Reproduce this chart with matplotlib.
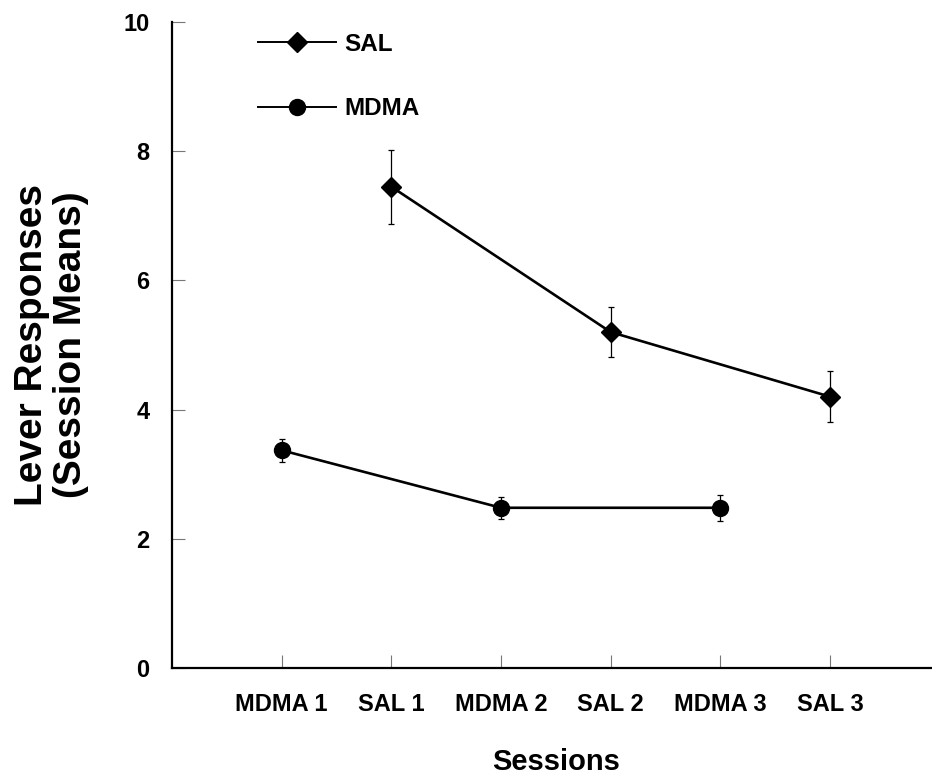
import matplotlib
matplotlib.use("Agg")
import matplotlib.pyplot as plt
from matplotlib.lines import Line2D

plt.rcParams["font.family"] = ["Liberation Sans", "DejaVu Sans"]
plt.rcParams["font.weight"] = "bold"

# session order on the x axis
sessions = ["MDMA 1", "SAL 1", "MDMA 2", "SAL 2", "MDMA 3", "SAL 3"]

# saline sessions (positions 1, 3, 5)
sal_pos = [1, 3, 5]
sal_mean = [7.45, 5.20, 4.20]
sal_err = [0.57, 0.39, 0.39]

# MDMA sessions (positions 0, 2, 4)
mdma_pos = [0, 2, 4]
mdma_mean = [3.37, 2.48, 2.48]
mdma_err = [0.18, 0.17, 0.20]

fig = plt.figure(figsize=(9.32, 7.79), dpi=100)
ax = fig.add_axes([0.1845, 0.1425, 0.8155, 0.8293])

ax.errorbar(sal_pos, sal_mean, yerr=sal_err, color="black", lw=1.9,
            marker="D", ms=10.5, elinewidth=0.9, capsize=2, capthick=0.9,
            zorder=3)
ax.errorbar(mdma_pos, mdma_mean, yerr=mdma_err, color="black", lw=1.9,
            marker="o", ms=11.5, elinewidth=0.9, capsize=2, capthick=0.9,
            zorder=3)

ax.set_xlim(-1, 5.93)
ax.set_ylim(0, 10)
ax.set_xticks(range(len(sessions)))
ax.set_xticklabels(sessions)
ax.set_yticks([0, 2, 4, 6, 8, 10])

for side in ("top", "right"):
    ax.spines[side].set_visible(False)
for side in ("left", "bottom"):
    ax.spines[side].set_linewidth(1.6)

ax.tick_params(axis="x", direction="in", length=9.5, width=0.8, color="#777777",
               pad=18, labelsize=17)
ax.tick_params(axis="y", direction="in", length=9.5, width=0.8, color="#777777",
               pad=16, labelsize=17)

ax.set_ylabel("Lever Responses\n(Session Means)", fontsize=28, fontweight="bold",
              va="center", linespacing=1.1)
ax.yaxis.set_label_coords(-0.158, 0.5)
ax.set_xlabel("Sessions", fontsize=21, fontweight="bold", va="center")
ax.xaxis.set_label_coords(0.505, -0.1455)

# legend keys without the error bars
handles = [
    Line2D([], [], color="black", lw=1.4, marker="D", ms=10.5),
    Line2D([], [], color="black", lw=1.4, marker="o", ms=11.5),
]
ax.legend(handles, ["SAL", "MDMA"], loc="upper left",
          bbox_to_anchor=(258 / 932, 1 - 33 / 779),
          bbox_transform=fig.transFigure, frameon=False, fontsize=17.5,
          handlelength=3.2, handletextpad=0.35, labelspacing=1.7,
          borderpad=0, borderaxespad=0)

fig.savefig("out.png", dpi=100)
